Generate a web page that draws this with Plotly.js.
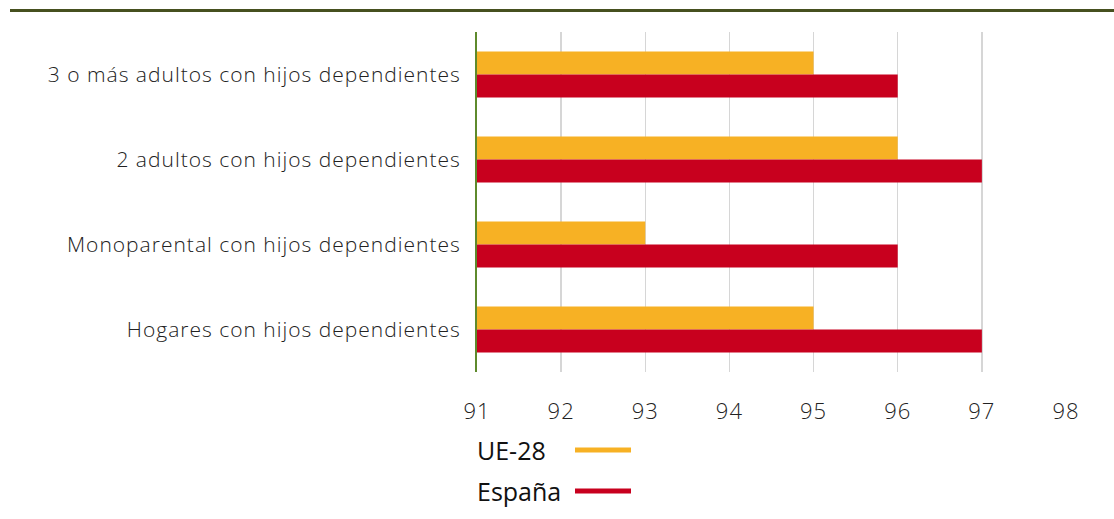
<!DOCTYPE html>
<html>
<head>
<meta charset="utf-8">
<script src="https://cdn.plot.ly/plotly-3.0.1.min.js"></script>
<style>
html,body{margin:0;padding:0;background:#fff;}
#chart{width:1114px;height:519px;}
#chart .ytick text, #chart .xtick text{letter-spacing:1px;}
</style>
</head>
<body>
<div id="chart"></div>
<script>
const categories = [
  "3 o más adultos con hijos dependientes",
  "2 adultos con hijos dependientes",
  "Monoparental con hijos dependientes",
  "Hogares con hijos dependientes"
];
const seriesNames = ["UE-28", "España"];
const ue28 = [95, 96, 93, 95];
const espana = [96, 97, 96, 97];
const xTicks = [91, 92, 93, 94, 95, 96, 97, 98];

const colors = ["#F7B124", "#C8001E"];
const W = 1114, H = 519;
const m = {l: 477, r: 48, t: 32, b: 147};
const pw = W - m.l - m.r, ph = H - m.t - m.b;
const px = x => (x - m.l) / pw;
const py = y => (H - m.b - y) / ph;

const traces = [
  {type: "bar", orientation: "h", name: seriesNames[0], y: categories, x: ue28, marker: {color: colors[0]}, hoverinfo: "x"},
  {type: "bar", orientation: "h", name: seriesNames[1], y: categories, x: espana, marker: {color: colors[1]}, hoverinfo: "x"}
];

const fam = "'Open Sans', sans-serif";
const legendY = [450, 491];
const annotations = seriesNames.map((n, i) => ({
  xref: "paper", yref: "paper", x: px(475), y: py(legendY[i]),
  xanchor: "left", yanchor: "middle", showarrow: false,
  text: n, font: {family: fam, size: 25, color: "#111", weight: 400}
}));
const shapes = [
  {type: "line", xref: "paper", yref: "paper", x0: px(10), x1: px(1114), y0: py(10.5), y1: py(10.5),
   line: {color: "#46501F", width: 3}},
  ...seriesNames.map((n, i) => ({
    type: "line", xref: "paper", yref: "paper", x0: px(575), x1: px(631), y0: py(legendY[i]), y1: py(legendY[i]),
    line: {color: colors[i], width: 5}
  }))
];

const layout = {
  width: W, height: H,
  margin: m,
  paper_bgcolor: "#fff", plot_bgcolor: "#fff",
  barmode: "group", bargap: 0.46, bargroupgap: 0,
  showlegend: false,
  font: {family: fam, color: "#222"},
  xaxis: {
    range: [91, 98], tickvals: xTicks, ticktext: xTicks.map(String),
    showgrid: true, gridcolor: "#D6D6D6", gridwidth: 1.5,
    zeroline: false, showline: false,
    ticks: "outside", ticklen: 20, tickcolor: "rgba(0,0,0,0)",
    tickfont: {family: fam, size: 22, color: "#222", weight: 300}
  },
  yaxis: {
    type: "category", autorange: "reversed",
    showgrid: false, zeroline: false,
    showline: true, linecolor: "#5E8A2C", linewidth: 2,
    ticks: "outside", ticklen: 10, tickcolor: "rgba(0,0,0,0)",
    tickfont: {family: fam, size: 21, color: "#222", weight: 300}
  },
  annotations: annotations,
  shapes: shapes
};

Plotly.newPlot("chart", traces, layout, {displayModeBar: false, staticPlot: true});
</script>
</body>
</html>
